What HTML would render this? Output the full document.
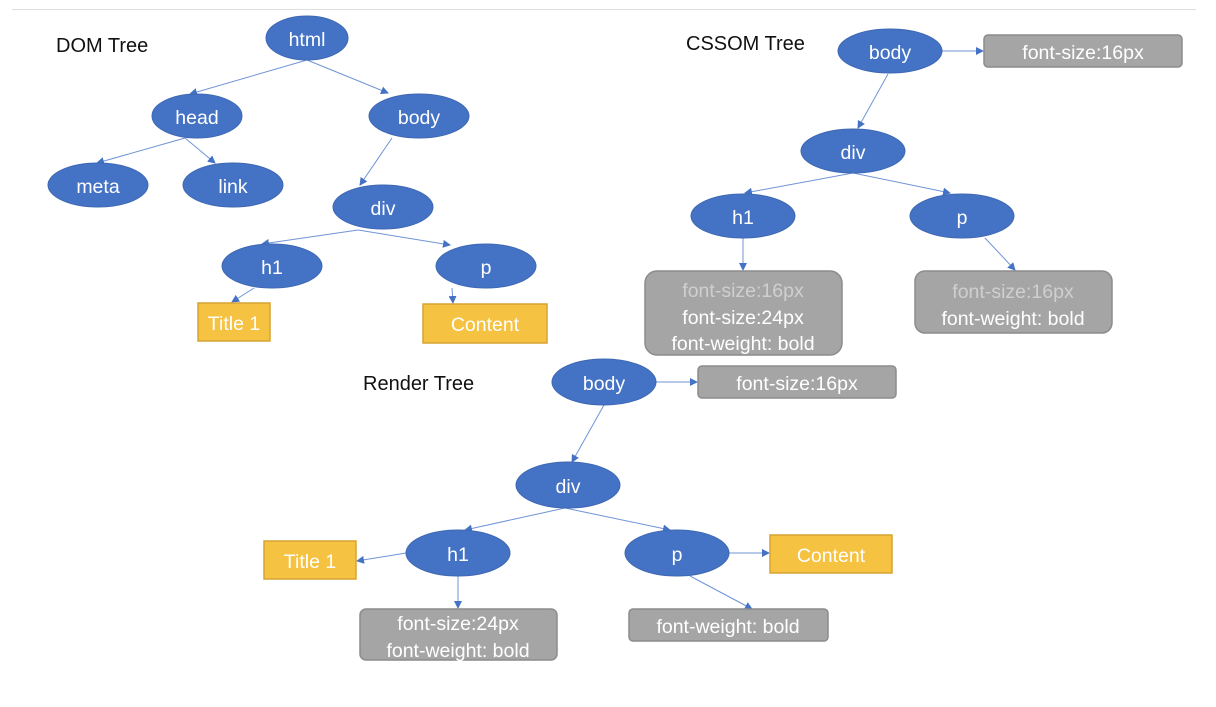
<!DOCTYPE html>
<html><head><meta charset="utf-8"><style>
html,body{margin:0;padding:0;background:#fff;}
svg{display:block;}
text{font-family:"Liberation Sans",sans-serif;font-size:19.5px;}
.e{fill:#4472C4;stroke:#3f68b3;stroke-width:1;}
.w{fill:#fff;text-anchor:middle;dominant-baseline:central;transform:translateY(2px);}
.l{stroke:#6f94d6;stroke-width:1;fill:none;marker-end:url(#a);}
.g{fill:#a5a5a5;stroke:#8c8c8c;stroke-width:1.5;}
.y{fill:#F5C242;stroke:#d6a334;stroke-width:1.5;}
.f{fill:#cfcfcf;}
.t{fill:#111;font-size:20px;}
</style></head><body>
<svg width="1216" height="707" viewBox="0 0 1216 707">
<defs><marker id="a" markerWidth="8" markerHeight="8" refX="7" refY="4" orient="auto" markerUnits="userSpaceOnUse"><path d="M0,0 L8,4 L0,8 z" fill="#4472C4"/></marker></defs>
<line x1="12" y1="9.5" x2="1196" y2="9.5" stroke="#ddd" stroke-width="1"/>
<!-- DOM -->
<text class="t" x="56" y="52">DOM Tree</text>
<path class="l" d="M307,60 L190,94"/><path class="l" d="M307,60 L388,93"/>
<path class="l" d="M185,138 L97,163"/><path class="l" d="M185,138 L215,163"/>
<path class="l" d="M392,138 L360,185"/>
<path class="l" d="M358,230 L262,244"/><path class="l" d="M358,230 L450,245"/>
<path class="l" d="M254,288 L232,302"/><path class="l" d="M452,288 L453,303"/>
<ellipse class="e" cx="307" cy="38" rx="41" ry="22"/><text class="w" x="307" y="38">html</text>
<ellipse class="e" cx="197" cy="116" rx="45" ry="22"/><text class="w" x="197" y="116">head</text>
<ellipse class="e" cx="419" cy="116" rx="50" ry="22"/><text class="w" x="419" y="116">body</text>
<ellipse class="e" cx="98" cy="185" rx="50" ry="22"/><text class="w" x="98" y="185">meta</text>
<ellipse class="e" cx="233" cy="185" rx="50" ry="22"/><text class="w" x="233" y="185">link</text>
<ellipse class="e" cx="383" cy="207" rx="50" ry="22"/><text class="w" x="383" y="207">div</text>
<ellipse class="e" cx="272" cy="266" rx="50" ry="22"/><text class="w" x="272" y="266">h1</text>
<ellipse class="e" cx="486" cy="266" rx="50" ry="22"/><text class="w" x="486" y="266">p</text>
<rect class="y" x="198" y="303" width="72" height="38"/><text class="w" x="234" y="322">Title 1</text>
<rect class="y" x="423" y="304" width="124" height="39"/><text class="w" x="485" y="323">Content</text>
<!-- CSSOM -->
<text class="t" x="686" y="50">CSSOM Tree</text>
<path class="l" d="M942,51 L983,51"/>
<path class="l" d="M888,74 L858,128"/>
<path class="l" d="M853,173 L745,193"/><path class="l" d="M853,173 L950,193"/>
<path class="l" d="M743,238 L743,270"/><path class="l" d="M985,238 L1015,270"/>
<ellipse class="e" cx="890" cy="51" rx="52" ry="22"/><text class="w" x="890" y="51">body</text>
<rect class="g" x="984" y="35" width="198" height="32" rx="4"/><text class="w" x="1083" y="51">font-size:16px</text>
<ellipse class="e" cx="853" cy="151" rx="52" ry="22"/><text class="w" x="853" y="151">div</text>
<ellipse class="e" cx="743" cy="216" rx="52" ry="22"/><text class="w" x="743" y="216">h1</text>
<ellipse class="e" cx="962" cy="216" rx="52" ry="22"/><text class="w" x="962" y="216">p</text>
<rect class="g" x="645" y="271" width="197" height="84" rx="12"/>
<text class="w f" x="743" y="289">font-size:16px</text>
<text class="w" x="743" y="316">font-size:24px</text>
<text class="w" x="743" y="342">font-weight: bold</text>
<rect class="g" x="915" y="271" width="197" height="62" rx="10"/>
<text class="w f" x="1013" y="290">font-size:16px</text>
<text class="w" x="1013" y="317">font-weight: bold</text>
<!-- Render -->
<text class="t" x="363" y="390">Render Tree</text>
<path class="l" d="M656,382 L697,382"/>
<path class="l" d="M604,405 L572,462"/>
<path class="l" d="M565,508 L465,530"/><path class="l" d="M565,508 L670,530"/>
<path class="l" d="M406,553 L357,561"/><path class="l" d="M729,553 L769,553"/>
<path class="l" d="M458,576 L458,608"/><path class="l" d="M690,576 L752,609"/>
<ellipse class="e" cx="604" cy="382" rx="52" ry="23"/><text class="w" x="604" y="382">body</text>
<rect class="g" x="698" y="366" width="198" height="32" rx="4"/><text class="w" x="797" y="382">font-size:16px</text>
<ellipse class="e" cx="568" cy="485" rx="52" ry="23"/><text class="w" x="568" y="485">div</text>
<ellipse class="e" cx="458" cy="553" rx="52" ry="23"/><text class="w" x="458" y="553">h1</text>
<ellipse class="e" cx="677" cy="553" rx="52" ry="23"/><text class="w" x="677" y="553">p</text>
<rect class="y" x="264" y="541" width="92" height="38"/><text class="w" x="310" y="560">Title 1</text>
<rect class="y" x="770" y="535" width="122" height="38"/><text class="w" x="831" y="554">Content</text>
<rect class="g" x="360" y="609" width="197" height="51" rx="6"/>
<text class="w" x="458" y="622">font-size:24px</text>
<text class="w" x="458" y="649">font-weight: bold</text>
<rect class="g" x="629" y="609" width="199" height="32" rx="4"/><text class="w" x="728" y="625">font-weight: bold</text>
</svg>
</body></html>
